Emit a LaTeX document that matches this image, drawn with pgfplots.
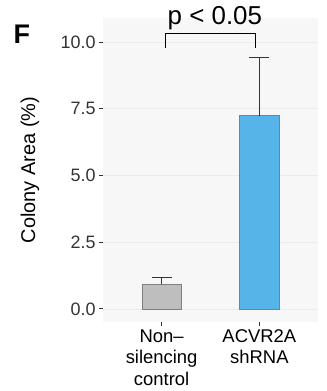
\documentclass[border=0pt]{standalone}
\usepackage{pgfplots}
\pgfplotsset{compat=1.18}
\usepackage{fontspec}
\setmainfont{Liberation Sans}
\definecolor{panelbg}{HTML}{F7F7F7}
\definecolor{gridc}{HTML}{EBEBEB}
\definecolor{barblue}{HTML}{56B4E9}
\definecolor{bargrey}{HTML}{BEBEBE}
\definecolor{bordc}{HTML}{7F7F7F}
\definecolor{tickc}{HTML}{333333}
\begin{document}
\begin{tikzpicture}[x=1bp,y=1bp]
\path[use as bounding box] (0,0) rectangle (327,391);
\begin{axis}[
  at={(103bp,69bp)}, anchor=south west,
  scale only axis, width=215bp, height=304bp,
  xmin=0.4, xmax=2.6, ymin=-0.49, ymax=10.9,
  axis background/.style={fill=panelbg},
  axis line style={draw=none},
  xtick={1,2},
  xtick pos=bottom, ytick pos=left,
  xticklabels={Non--\\silencing\\control, ACVR2A\\shRNA},
  xticklabel style={align=center, font=\fontsize{18.5}{21.5}\selectfont, text=black, yshift=0bp},
  ytick={0,2.5,5,7.5,10},
  yticklabels={0.0,2.5,5.0,7.5,10.0},
  yticklabel style={font=\fontsize{18}{20}\selectfont, text=tickc},
  tick align=outside, major tick length=4bp,
  tick style={tickc, line width=1pt},
  ymajorgrids, grid style={gridc, line width=0.8pt},
  ylabel={Colony Area (\%)},
  ylabel style={font=\fontsize{20}{22}\selectfont, at={(axis description cs:-0.34,0.5)}, anchor=center},
  clip=false,
]
\addplot[ybar, bar width=0.4, fill=bargrey, draw=bordc, line width=0.8pt,
  error bars/.cd, y dir=plus, y explicit,
  error bar style={tickc, line width=0.8pt},
  error mark options={rotate=90, mark size=10bp, tickc, line width=0.8pt}]
  coordinates {(1,0.92) +- (0,0.27)};
\addplot[ybar, bar width=0.4, fill=barblue, draw=bordc, line width=0.8pt,
  error bars/.cd, y dir=plus, y explicit,
  error bar style={tickc, line width=0.8pt},
  error mark options={rotate=90, mark size=10bp, tickc, line width=0.8pt}]
  coordinates {(2,7.24) +- (0,2.19)};
\draw[black, line width=1pt] (axis cs:1.04,9.76) -- (axis cs:1.04,10.33) -- (axis cs:1.96,10.33) -- (axis cs:1.96,9.76);
\node[anchor=base, inner sep=0pt, font=\fontsize{26}{28}\selectfont] at (axis cs:1.545,10.64) {p < 0.05};
\end{axis}
\node[anchor=base west, inner sep=0pt, font=\bfseries\fontsize{27}{29}\selectfont] at (13.5,347.5) {F};
\end{tikzpicture}
\end{document}
